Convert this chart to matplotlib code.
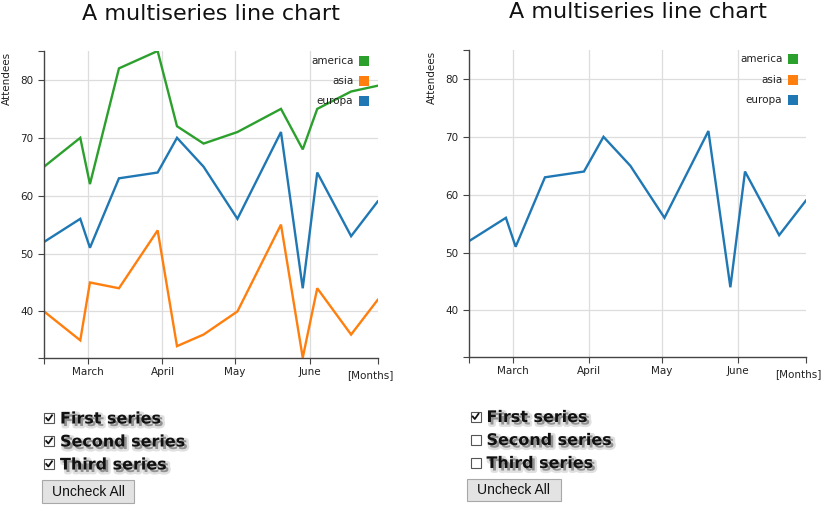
import matplotlib
matplotlib.use("Agg")
import matplotlib.pyplot as plt
import matplotlib.dates as mdates
import matplotlib.patheffects as pe
from matplotlib.patches import Rectangle

# data
dates = ["2014-02-11", "2014-02-26", "2014-03-02", "2014-03-14", "2014-03-30",
         "2014-04-07", "2014-04-18", "2014-05-02", "2014-05-20", "2014-05-29",
         "2014-06-04", "2014-06-18", "2014-06-29"]
america = [65, 70, 62, 82, 85, 72, 69, 71, 75, 68, 75, 78, 79]
asia = [40, 35, 45, 44, 54, 34, 36, 40, 55, 32, 44, 36, 42]
europa = [52, 56, 51, 63, 64, 70, 65, 56, 71, 44, 64, 53, 59]
series_names = ["america", "asia", "europa"]
colors = ["#2ca02c", "#ff7f0e", "#1f77b4"]
checkbox_labels = ["First series", "Second series", "Third series"]
# first checkbox drives europa, second asia, third america
checkbox_series = [2, 1, 0]
left_checked = [True, True, True]
right_checked = [True, False, False]

x = mdates.datestr2num(dates)
all_values = america + asia + europa
ymin, ymax = min(all_values), max(all_values)
month_ticks = mdates.datestr2num(["2014-03-01", "2014-04-01", "2014-05-01", "2014-06-01"])
month_labels = ["March", "April", "May", "June"]

W, H = 825, 505
fig = plt.figure(figsize=(W / 100, H / 100), dpi=100)
fig.patch.set_facecolor("white")

# overlay axes in pixel coords for the html-ish parts
ov = fig.add_axes([0, 0, 1, 1])
ov.set_xlim(0, W)
ov.set_ylim(H, 0)
ov.axis("off")
ov.set_zorder(3)
ov.patch.set_alpha(0)

axis_col = "#444444"
txt_col = "#222222"


def make_chart(px_left, px_right, px_top, px_bottom, checked):
    ax = fig.add_axes([px_left / W, 1 - px_bottom / H,
                       (px_right - px_left) / W, (px_bottom - px_top) / H])
    ax.set_zorder(1)
    data = [america, asia, europa]
    shown = [False, False, False]
    for idx, on in zip(checkbox_series, checked):
        shown[idx] = on
    for vals, col, on in zip(data, colors, shown):
        if on:
            ax.plot(x, vals, color=col, lw=1.7, solid_joinstyle="miter")
    ax.set_xlim(x[0], x[-1])
    ax.set_ylim(ymin, ymax)
    ax.set_xticks(month_ticks)
    ax.set_xticklabels(month_labels)
    ax.set_yticks([40, 50, 60, 70, 80])
    ax.set_xticks([x[0], x[-1]], minor=True)
    ax.set_yticks([ymin, ymax], minor=True)
    ax.grid(True, which="major", color="#dddddd", lw=0.9)
    ax.set_axisbelow(True)
    for s in ["top", "right"]:
        ax.spines[s].set_visible(False)
    for s in ["left", "bottom"]:
        ax.spines[s].set_color(axis_col)
        ax.spines[s].set_linewidth(1.0)
    ax.tick_params(which="both", direction="out", length=4.3, width=0.8,
                   color=axis_col, labelsize=7.5, labelcolor=txt_col)
    ax.tick_params(axis="y", pad=3.5)
    ax.tick_params(axis="x", pad=2.5)
    return ax


def legend(px_sq_left, px_sq_tops):
    for name, col, top in zip(series_names, colors, px_sq_tops):
        ov.add_patch(Rectangle((px_sq_left, top), 10, 10, color=col, lw=0))
        ov.text(px_sq_left - 6, top + 5, name, ha="right", va="center",
                fontsize=7.5, color=txt_col)


def checkboxes(px_box_left, px_tops, checked):
    shadow = [pe.SimpleLineShadow(offset=(1.8, -1.8), shadow_color="k", alpha=0.12, linewidth=3.5),
              pe.SimplePatchShadow(offset=(1.8, -1.8), shadow_rgbFace="k", alpha=0.35),
              pe.Normal()]
    for lab, top, on in zip(checkbox_labels, px_tops, checked):
        ov.add_patch(Rectangle((px_box_left, top), 10, 10, facecolor="white",
                               edgecolor="#555555", lw=0.8))
        if on:
            ov.plot([px_box_left + 2.2, px_box_left + 4.3, px_box_left + 8],
                    [top + 5, top + 7.5, top + 2.3], color="#111111", lw=1.3)
        t = ov.text(px_box_left + 16, top + 6, lab, ha="left", va="center",
                    fontsize=11.5, fontweight="bold", color="#111111")
        t.set_path_effects(shadow)


def button(px_l, px_t, px_w, px_h):
    ov.add_patch(Rectangle((px_l, px_t), px_w, px_h, facecolor="#e3e3e3",
                           edgecolor="#a8a8a8", lw=0.8))
    ov.text(px_l + px_w / 2, px_t + px_h / 2 + 0.5, "Uncheck All", ha="center",
            va="center", fontsize=10, family="Liberation Sans", color="#111111")


# left chart
axl = make_chart(44, 377.7, 51, 357.7, left_checked)
fig.text(210.5 / W, 1 - 20 / H, "A multiseries line chart", ha="center",
         va="baseline", fontsize=16, color="#111111")
ov.text(6.5, 52, "Attendees", rotation=90, ha="center", va="top", fontsize=7.5, color=txt_col)
ov.text(393, 375, "[Months]", ha="right", va="center", fontsize=7.5, color=txt_col)
legend(359.3, [55.7, 76, 96])
checkboxes(44, [413, 436, 459], left_checked)
button(42, 480, 92, 23)

# right chart
axr = make_chart(469.3, 806, 50, 356.7, right_checked)
fig.text(638 / W, 1 - 18.5 / H, "A multiseries line chart", ha="center",
         va="baseline", fontsize=16, color="#111111")
ov.text(432, 51, "Attendees", rotation=90, ha="center", va="top", fontsize=7.5, color=txt_col)
ov.text(822, 374, "[Months]", ha="right", va="center", fontsize=7.5, color=txt_col)
legend(788.3, [54.3, 75, 95.3])
checkboxes(470.5, [411.5, 434.5, 457.5], right_checked)
button(466.7, 479, 94, 22)

fig.savefig("out.png", dpi=100)
